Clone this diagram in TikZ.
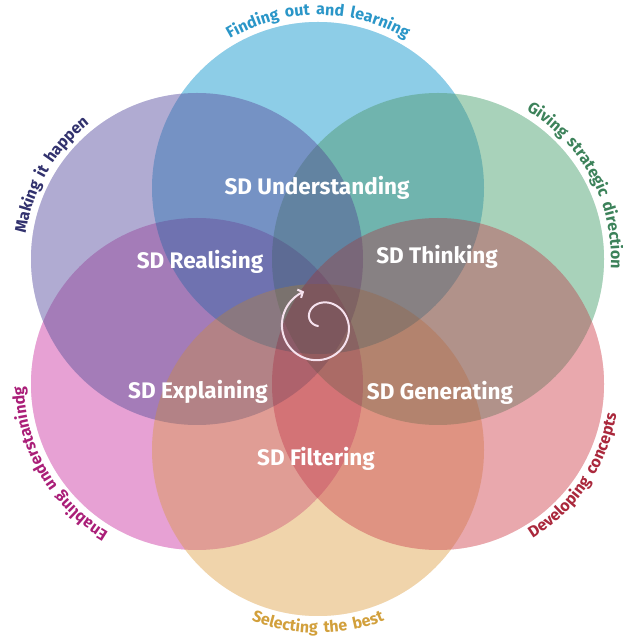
\documentclass[tikz,border=0pt]{standalone}
\usepackage{fontspec}
\setmainfont{Fira Sans}
\newfontfamily\arcfam{Fira Sans}[LetterSpace=14]
\usetikzlibrary{decorations.text,arrows.meta}
% multiply layer colours (= single-circle look)
\definecolor{mblue}{HTML}{8ECDE8}
\definecolor{mpurple}{HTML}{B1ACD3}
\definecolor{mgreen}{HTML}{A9D3BB}
\definecolor{mpink}{HTML}{E7A2D4}
\definecolor{mred}{HTML}{E9A9AE}
\definecolor{morange}{HTML}{F1D5AC}
% normal layer colours (used at 0.7 opacity)
\definecolor{nblue}{HTML}{5EB8DE}
\definecolor{npurple}{HTML}{8F88C0}
\definecolor{ngreen}{HTML}{84C09E}
\definecolor{npink}{HTML}{DD7AC2}
\definecolor{nred}{HTML}{E0848B}
\definecolor{norange}{HTML}{EBC388}
\definecolor{tblue}{HTML}{2A96C8}
\definecolor{tgreen}{HTML}{3C825A}
\definecolor{tindigo}{HTML}{32326E}
\definecolor{tmagenta}{HTML}{AA1E78}
\definecolor{tgold}{HTML}{D2A03C}
\definecolor{tred}{HTML}{AA283C}
\definecolor{swirlc}{HTML}{F6E2EE}
\tikzset{
  lbl/.style={text=white, font=\bfseries\fontsize{22.5}{24}\selectfont, inner sep=0pt},
  arclbl/.style={decorate, decoration={text along path, text align=center, text color=#1}},
  swirlline/.style={draw=swirlc, line width=2pt, line cap=round, -{Straight Barb[length=4pt,width=9pt]}}
}
\newcommand{\arcfont}{\arcfam\bfseries\fontsize{16}{18}\selectfont}
\begin{document}
\begin{tikzpicture}[x=1pt,y=1pt]
\fill[white] (0,0) rectangle (622,637);
\useasboundingbox (0,0) rectangle (622,637);
\coordinate (cb) at (318,449);
\coordinate (cp) at (197,378);
\coordinate (cg) at (438,378);
\coordinate (ck) at (197,253);
\coordinate (cr) at (438,253);
\coordinate (co) at (318,187);
\coordinate (sw) at (318,311);
% normal-blended layer
\begin{scope}[fill opacity=0.7]
  \fill[npink] (ck) circle[radius=166];
  \fill[nblue] (cb) circle[radius=166];
  \fill[ngreen] (cg) circle[radius=166];
  \fill[npurple] (cp) circle[radius=166];
  \fill[norange] (co) circle[radius=166];
  \fill[nred] (cr) circle[radius=166];
\end{scope}
% multiply-blended layer, laid over at partial strength
\begin{scope}[transparency group, opacity=0.55]
  \begin{scope}[blend mode=multiply]
    \fill[mblue] (cb) circle[radius=166];
    \fill[mpurple] (cp) circle[radius=166];
    \fill[mgreen] (cg) circle[radius=166];
    \fill[mpink] (ck) circle[radius=166];
    \fill[mred] (cr) circle[radius=166];
    \fill[morange] (co) circle[radius=166];
  \end{scope}
\end{scope}
% center labels
\node[lbl] (und) at (317,449) {SD Understanding};
\node[lbl] (thi) at (437,380) {SD Thinking};
\node[lbl] (rea) at (200,375) {SD Realising};
\node[lbl] (exp) at (198,245) {SD Explaining};
\node[lbl] (gen) at (440,244) {SD Generating};
\node[lbl] (fil) at (316,178) {SD Filtering};
% swirl
\begin{scope}[shift={(sw)}]
  \draw[swirlline] plot[domain=0:418, samples=140, smooth, variable=\s]
    ({(31*(1-exp(-\s/70))+0.015*\s)*cos(170-\s)}, {(31*(1-exp(-\s/70))+0.015*\s)*sin(170-\s)});
\end{scope}
% outer curved labels
\path[arclbl=tblue, decoration={text={|\arcfont|Finding out and learning}}]
  ([shift={(cb)}]160:173) arc[start angle=160, end angle=20, radius=173];
\path[arclbl=tindigo, decoration={text={|\arcfont|Making it happen}}]
  ([shift={(cp)}]220:173) arc[start angle=220, end angle=80, radius=173];
\path[arclbl=tgreen, decoration={text={|\arcfont|Giving strategic direction}}]
  ([shift={(cg)}]98:173) arc[start angle=98, end angle=-42, radius=173];
\path[arclbl=tmagenta, decoration={text={|\arcfont|Enabling understanindg}}]
  ([shift={(ck)}]280:173) arc[start angle=280, end angle=140, radius=173];
\path[arclbl=tgold, decoration={text={|\arcfont|Selecting the best}}]
  ([shift={(co)}]200:183) arc[start angle=200, end angle=340, radius=183];
\path[arclbl=tred, decoration={text={|\arcfont|Developing concepts}}]
  ([shift={(cr)}]256:181) arc[start angle=256, end angle=396, radius=181];
\end{tikzpicture}
\end{document}
